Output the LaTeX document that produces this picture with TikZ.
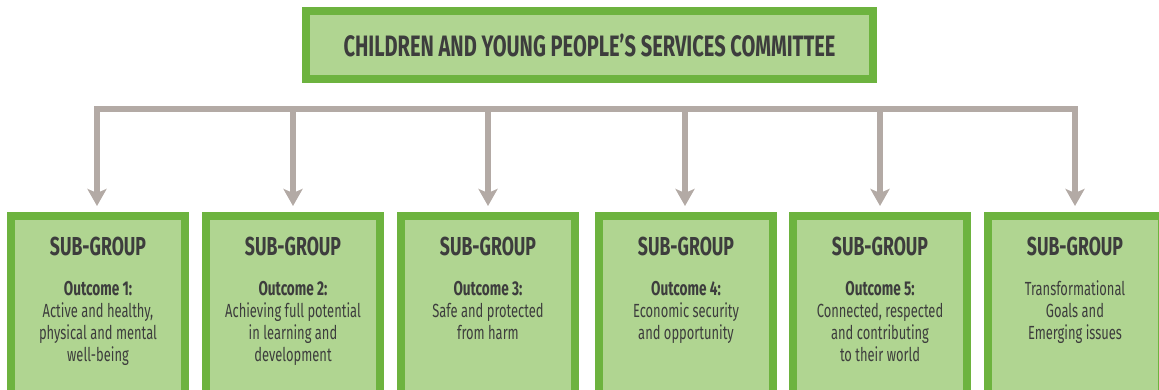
\documentclass[tikz,border=0pt]{standalone}
\usepackage{fontspec}
\setmainfont{Fira Sans}[FakeStretch=0.68]
\usetikzlibrary{arrows.meta}
\definecolor{boxgreen}{HTML}{6DB33F}
\definecolor{boxfill}{HTML}{B0D591}
\definecolor{linkgray}{HTML}{B3AAA5}
\definecolor{txtgray}{HTML}{3D3D3D}
\newcommand{\subhead}{\bfseries\fontsize{26}{28}\selectfont}
\newcommand{\outc}[1]{{\bfseries\fontsize{20}{22}\selectfont #1}}

\begin{document}
\begin{tikzpicture}
        [x=1pt,y=-1pt,
         topbox/.style={rectangle,draw=boxgreen,fill=boxfill,line width=8pt,minimum width=567pt,minimum height=68pt,inner sep=0pt,text=txtgray,font=\bfseries\fontsize{29.5}{31}\selectfont},
         subbox/.style={rectangle,draw=boxgreen,fill=boxfill,line width=8pt,minimum width=174pt,minimum height=178pt,inner sep=0pt},
         subtext/.style={anchor=north,align=center,inner sep=0pt,text=txtgray,font=\fontsize{19}{22}\selectfont},
         link/.style={draw=linkgray,line width=6.5pt},
         arr/.style={link,-{Stealth[width=19pt,length=17pt,inset=4pt]},shorten >=6pt}]
        \useasboundingbox (0,0) rectangle (1159,390);

        % committee
        \node[topbox] (C) at (589.5,45) {CHILDREN AND YOUNG PEOPLE’S SERVICES COMMITTEE};

        % sub-groups
        \node[subbox] (S1) at (98,305)      {};
        \node[subbox] (S2) at (293,305)     {};
        \node[subbox] (S3) at (488,305)     {};
        \node[subbox] (S4) at (686,305)     {};
        \node[subbox] (S5) at (880,305)     {};
        \node[subbox] (S6) at (1075,305)    {};

        \node[subtext] (T1) at (98,237)   {{\subhead SUB-GROUP}\\[18pt]\outc{Outcome 1:}\\Active and healthy,\\physical and mental\\well-being};
        \node[subtext] (T2) at (293,237)  {{\subhead SUB-GROUP}\\[18pt]\outc{Outcome 2:}\\Achieving full potential\\in learning and\\development};
        \node[subtext] (T3) at (488,237)  {{\subhead SUB-GROUP}\\[18pt]\outc{Outcome 3:}\\Safe and protected\\from harm};
        \node[subtext] (T4) at (686,237)  {{\subhead SUB-GROUP}\\[18pt]\outc{Outcome 4:}\\Economic security\\and opportunity};
        \node[subtext] (T5) at (880,237)  {{\subhead SUB-GROUP}\\[18pt]\outc{Outcome 5:}\\Connected, respected\\and contributing\\to their world};
        \node[subtext] (T6) at (1075,237) {{\subhead SUB-GROUP}\\[18pt]Transformational\\Goals and\\Emerging issues};

        % bar
        \coordinate (J1) at (97,109);
        \coordinate (J2) at (293,109);
        \coordinate (J3) at (488,109);
        \coordinate (J4) at (685,109);
        \coordinate (J5) at (880,109);
        \coordinate (J6) at (1075,109);

        \draw[link, line cap=rect] (J1) -- (J6);
        \draw[arr] (J1) -- (J1 |- S1.north);
        \draw[arr] (J2) -- (S2);
        \draw[arr] (J3) -- (S3);
        \draw[arr] (J4) -- (J4 |- S4.north);
        \draw[arr] (J5) -- (S5);
        \draw[arr] (J6) -- (S6);
    \end{tikzpicture}
\end{document}
